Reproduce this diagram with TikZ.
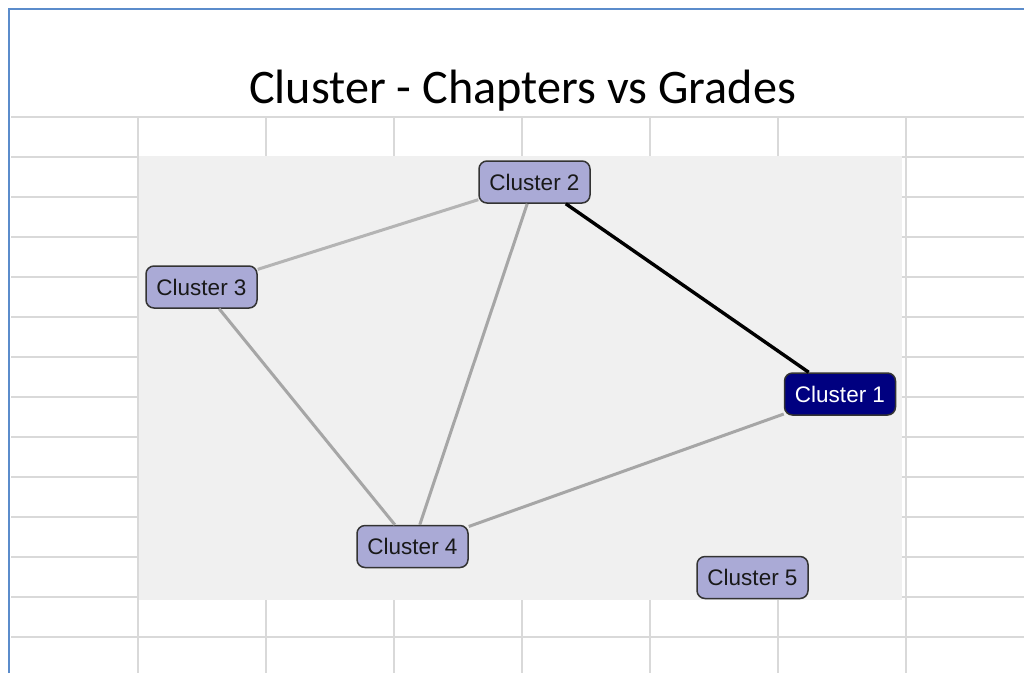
\documentclass[tikz,border=0pt]{standalone}
\usepackage{fontspec}
\setmainfont{Liberation Sans}
\newfontfamily\titlefont{Carlito}
\usepackage{xcolor}
\definecolor{gridgray}{HTML}{D9D9D9}
\definecolor{panelgray}{HTML}{F0F0F0}
\definecolor{frameblue}{HTML}{5B8CCB}
\definecolor{lavender}{HTML}{AAAAD6}
\definecolor{navyhub}{HTML}{000080}
\definecolor{edgegray}{HTML}{A6A6A6}
\definecolor{edgelight}{HTML}{B4B4B4}
\tikzset{
  cluster/.style={draw=black!80, rounded corners=8pt, align=center, minimum width=111pt,
                  minimum height=42pt, inner sep=0pt, fill=lavender, line width=1.5pt,
                  font=\fontsize{22.5}{24}\selectfont, text=black!90},
  hub/.style={cluster, fill=navyhub, text=white},
  link/.style={line width=3pt, edgegray},
  weak/.style={line width=3pt, edgelight},
  strong/.style={line width=3.4pt, black},
}

\begin{document}
\begin{tikzpicture}[x=1pt, y=-1pt]
  \useasboundingbox[fill=white] (0,0) rectangle (1024,673);

  % sheet grid
  \foreach \r in {0,...,13}
    \draw[gridgray, line width=1.8pt] (11,117+40*\r) -- (1024,117+40*\r);
  \foreach \c in {0,...,6}
    \draw[gridgray, line width=1.8pt] (138+128*\c,117) -- (138+128*\c,673);
  \fill[panelgray] (139,156) rectangle (902,600);
  \draw[frameblue, line width=2pt] (9,673) -- (9,9) -- (1024,9);

  \node[anchor=base, font=\titlefont\fontsize{48.2}{50}\selectfont] (title) at (522.5,103)
    {Cluster - Chapters vs Grades};

  \node[hub] (c1) at (840,394) {Cluster 1};
  \node[cluster] (c2) at (534.5,182) {Cluster 2};
  \node[cluster] (c3) at (201.5,287) {Cluster 3};
  \node[cluster] (c4) at (412.5,546.5) {Cluster 4};
  \node[cluster] (c5) at (752.5,577.5) {Cluster 5};

  \draw[strong] (c2) -- (c1);
  \draw[weak] (c2) -- (c3);
  \draw[link] (c2) -- (c4);
  \draw[link] (c3) -- (c4);
  \draw[link] (c1) -- (c4);
\end{tikzpicture}
\end{document}
